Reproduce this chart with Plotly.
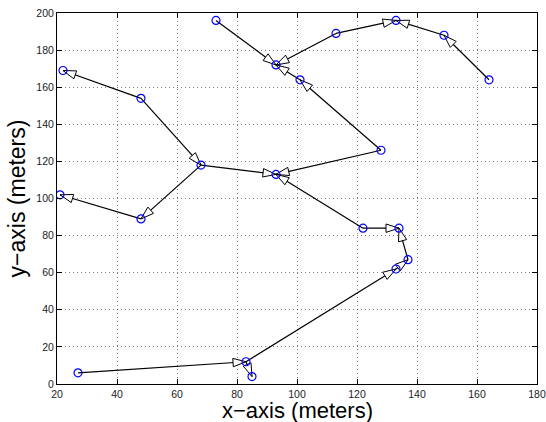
import math
import plotly.graph_objects as go

node_x = [73, 93, 113, 133, 149, 164, 101, 128, 22, 48, 68, 93, 21, 48, 122, 134, 137, 133, 27, 83, 85]
node_y = [196, 172, 189, 196, 188, 164, 164, 126, 169, 154, 118, 113, 102, 89, 84, 84, 67, 62, 6, 12, 4]
edge_from = [0, 2, 2, 4, 5, 6, 7, 7, 9, 9, 10, 10, 13, 14, 14, 16, 17, 19, 18, 19]
edge_to = [1, 1, 3, 3, 4, 1, 6, 11, 8, 10, 11, 13, 12, 11, 15, 15, 16, 17, 19, 20]
x_ticks = [20, 40, 60, 80, 100, 120, 140, 160, 180]
y_ticks = [0, 20, 40, 60, 80, 100, 120, 140, 160, 180, 200]

W_FIG, H_FIG = 546, 422
M_L, M_R, M_T, M_B = 57, 9, 13, 38
X_RANGE = [20, 180]
Y_RANGE = [0, 200]
sx = (W_FIG - M_L - M_R) / (X_RANGE[1] - X_RANGE[0])
sy = (H_FIG - M_T - M_B) / (Y_RANGE[1] - Y_RANGE[0])
HEAD_LEN, HEAD_HALF = 13.0, 4.2

fig = go.Figure()
# edges
for a, b in zip(edge_from, edge_to):
    fig.add_trace(go.Scatter(
        x=[node_x[a], node_x[b]], y=[node_y[a], node_y[b]],
        mode="lines", line=dict(color="black", width=1.2),
        showlegend=False, hoverinfo="skip"))
# arrowheads (open white triangles), computed in pixel space from the data
for a, b in zip(edge_from, edge_to):
    dxp = (node_x[b] - node_x[a]) * sx
    dyp = (node_y[b] - node_y[a]) * sy
    n = math.hypot(dxp, dyp)
    ux, uy = dxp / n, dyp / n
    px, py = -uy, ux
    tx, ty = node_x[b], node_y[b]
    bx = tx - HEAD_LEN * ux / sx
    by = ty - HEAD_LEN * uy / sy
    xs = [tx, bx + HEAD_HALF * px / sx, bx - HEAD_HALF * px / sx, tx]
    ys = [ty, by + HEAD_HALF * py / sy, by - HEAD_HALF * py / sy, ty]
    fig.add_trace(go.Scatter(
        x=xs, y=ys, mode="lines", fill="toself", fillcolor="white",
        line=dict(color="black", width=1), showlegend=False, hoverinfo="skip"))

fig.add_trace(go.Scatter(
    x=node_x, y=node_y, mode="markers",
    marker=dict(symbol="circle-open", size=8, color="blue", line=dict(width=1.2)),
    showlegend=False))

axis_common = dict(
    showline=True, linecolor="black", linewidth=1, mirror="ticks",
    ticks="inside", ticklen=5, tickcolor="black", automargin=False,
    ticklabeloverflow="allow",
    showgrid=True, gridcolor="rgba(0,0,0,0.5)", griddash="1px,3px", gridwidth=1,
    zeroline=False, tickfont=dict(family="Liberation Sans", size=10.5, color="#222"),
)

fig.update_xaxes(range=X_RANGE, tickvals=x_ticks, **axis_common)
fig.update_yaxes(range=Y_RANGE, tickvals=y_ticks, **axis_common,
                 title=dict(text="y\u2212axis (meters)", font=dict(family="Liberation Sans", size=23, color="black"), standoff=4))

fig.add_annotation(
    text="x\u2212axis (meters)", xref="paper", yref="paper", x=0.5, y=0,
    xanchor="center", yanchor="middle", yshift=-26, showarrow=False,
    font=dict(family="Liberation Sans", size=22, color="black"))

fig.update_layout(
    width=W_FIG, height=H_FIG,
    margin=dict(l=M_L, r=M_R, t=M_T, b=M_B),
    plot_bgcolor="white", paper_bgcolor="white",
)

fig.write_html("out.html")
